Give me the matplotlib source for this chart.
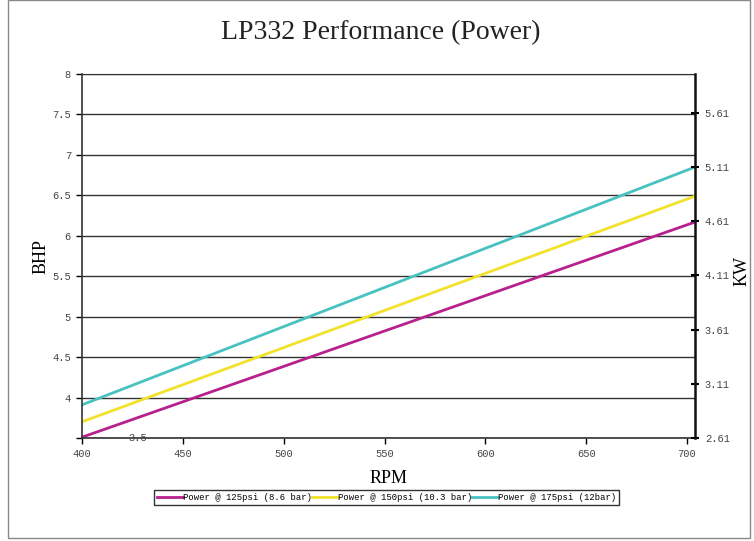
import matplotlib
matplotlib.use("Agg")
import matplotlib.pyplot as plt
from matplotlib.patches import Rectangle

# data
rpm = [400, 704]
power_125 = [3.51, 6.17]
power_150 = [3.70, 6.49]
power_175 = [3.91, 6.85]
labels = ["Power @ 125psi (8.6 bar)", "Power @ 150psi (10.3 bar)", "Power @ 175psi (12bar)"]
colors = ["#B8208C", "#F2E22C", "#48C2C0"]
bhp_ticks = [4, 4.5, 5, 5.5, 6, 6.5, 7, 7.5, 8]
kw_ticks = [2.61, 3.11, 3.61, 4.11, 4.61, 5.11, 5.61]
rpm_ticks = [400, 450, 500, 550, 600, 650, 700]
HP_TO_KW = 0.7457

serif = "Liberation Serif"
mono = "Liberation Mono"

fig = plt.figure(figsize=(7.54, 5.41), dpi=100)
fig.patches.append(Rectangle((0.011, 0.006), 0.984, 0.994, transform=fig.transFigure,
                             fill=False, edgecolor="#888888", linewidth=1.0))

ax = fig.add_axes([0.1088, 0.1904, 0.813, 0.6728])
for vals, lab, col in zip([power_125, power_150, power_175], labels, colors):
    ax.plot(rpm, vals, color=col, linewidth=2, label=lab)

ax.set_xlim(400, 704)
ax.set_ylim(3.5, 8)
ax.set_xticks(rpm_ticks)
ax.set_xticklabels([str(t) for t in rpm_ticks], family=mono, fontsize=7.5, color="#444444")
ax.set_yticks([3.5] + bhp_ticks)
ax.set_yticklabels([""] + [f"{t:g}" for t in bhp_ticks], family=mono, fontsize=7.5, color="#444444")
ax.text(427.5, 3.5, "3.5", family=mono, fontsize=7.5, color="#444444", ha="center", va="center")
ax.tick_params(axis="both", length=4, width=1, direction="out", pad=4)
ax.yaxis.grid(True, color="#333333", linewidth=1)
ax.set_axisbelow(True)
for s in ["left", "bottom"]:
    ax.spines[s].set_color("#333333")
    ax.spines[s].set_linewidth(1.2)
ax.spines["top"].set_color("#333333")
ax.spines["right"].set_visible(False)

ax.set_xlabel("RPM", family=serif, fontsize=13, labelpad=8)
ax.set_ylabel("BHP", family=serif, fontsize=13, labelpad=0)
ax.yaxis.set_label_coords(-0.053, 0.5)

ax2 = ax.twinx()
ax2.set_ylim(3.5 * HP_TO_KW, 8 * HP_TO_KW)
ax2.set_yticks(kw_ticks)
ax2.set_yticklabels([f"{t:.2f}" for t in kw_ticks], family=mono, fontsize=7.5, color="#444444")
ax2.tick_params(axis="y", length=6, width=1.5, direction="inout", pad=4)
ax2.spines["right"].set_color("#111111")
ax2.spines["right"].set_linewidth(1.8)
for s in ["left", "top", "bottom"]:
    ax2.spines[s].set_visible(False)
ax2.set_ylabel("KW", family=serif, fontsize=13)
ax2.yaxis.set_label_coords(1.062, 0.46)

fig.text(0.505, 0.94, "LP332 Performance (Power)", family=serif, fontsize=20,
         ha="center", va="center", color="#222222")

leg = ax.legend(loc="center", bbox_to_anchor=(0.5125, 0.081), bbox_transform=fig.transFigure,
                ncol=3, prop={"family": mono, "size": 6.4}, frameon=True, fancybox=False,
                handlelength=2.9, handletextpad=0.0, columnspacing=0.0, borderpad=0.35,
                borderaxespad=0)
leg.get_frame().set_edgecolor("#000000")
leg.get_frame().set_linewidth(1)

fig.savefig("out.png", dpi=100)
